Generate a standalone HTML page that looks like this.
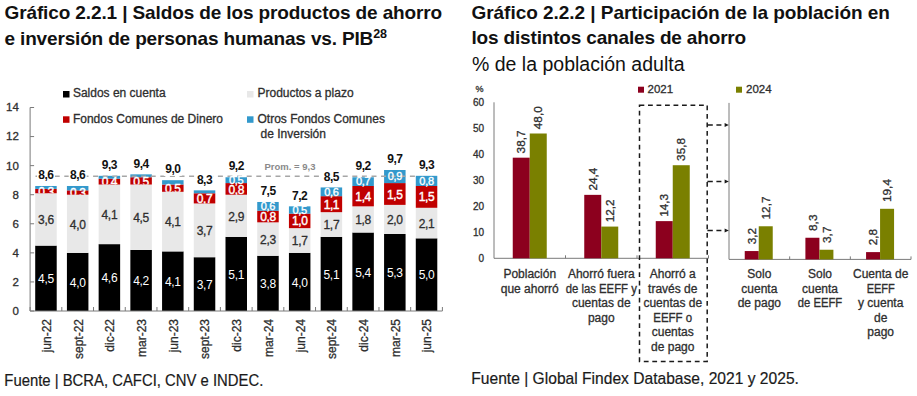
<!DOCTYPE html>
<html><head><meta charset="utf-8"><style>
html,body{margin:0;padding:0;background:#fff;width:917px;height:396px;overflow:hidden;position:relative;}
</style></head><body>
<svg width="917" height="396" viewBox="0 0 917 396" style="position:absolute;left:0;top:0" font-family='"Liberation Sans", sans-serif'>
<rect x="0" y="0" width="917" height="396" fill="#ffffff"/>
<text x="4.5" y="18.7" font-size="19" font-weight="700" fill="#111111" text-anchor="start" letter-spacing="-0.12" >Gráfico 2.2.1 | Saldos de los productos de ahorro</text>
<text x="4.5" y="44.8" font-size="19" font-weight="700" fill="#111111" text-anchor="start" letter-spacing="-0.16" >e inversión de personas humanas vs. PIB<tspan font-size="12.5" dx="0.2" dy="-7.2" letter-spacing="-0.3">28</tspan></text>
<text x="471.5" y="18.6" font-size="19" font-weight="700" fill="#111111" text-anchor="start" letter-spacing="-0.04" >Gráfico 2.2.2 | Participación de la población en</text>
<text x="471.5" y="44.4" font-size="19" font-weight="700" fill="#111111" text-anchor="start" letter-spacing="-0.17" >los distintos canales de ahorro</text>
<text x="472" y="70.5" font-size="19.5" font-weight="400" fill="#111111" text-anchor="start" >% de la población adulta</text>
<line x1="30.1" y1="107.49600000000001" x2="30.1" y2="311.0" stroke="#7a7a7a" stroke-width="1"/>
<line x1="30.1" y1="311.00" x2="34.1" y2="311.00" stroke="#7a7a7a" stroke-width="1"/>
<text x="18.8" y="314.90" font-size="11.5" font-weight="400" fill="#2e2e2e" text-anchor="end"  stroke="#2e2e2e" stroke-width="0.3">0</text>
<line x1="30.1" y1="281.93" x2="34.1" y2="281.93" stroke="#7a7a7a" stroke-width="1"/>
<text x="18.8" y="285.83" font-size="11.5" font-weight="400" fill="#2e2e2e" text-anchor="end"  stroke="#2e2e2e" stroke-width="0.3">2</text>
<line x1="30.1" y1="252.86" x2="34.1" y2="252.86" stroke="#7a7a7a" stroke-width="1"/>
<text x="18.8" y="256.76" font-size="11.5" font-weight="400" fill="#2e2e2e" text-anchor="end"  stroke="#2e2e2e" stroke-width="0.3">4</text>
<line x1="30.1" y1="223.78" x2="34.1" y2="223.78" stroke="#7a7a7a" stroke-width="1"/>
<text x="18.8" y="227.68" font-size="11.5" font-weight="400" fill="#2e2e2e" text-anchor="end"  stroke="#2e2e2e" stroke-width="0.3">6</text>
<line x1="30.1" y1="194.71" x2="34.1" y2="194.71" stroke="#7a7a7a" stroke-width="1"/>
<text x="18.8" y="198.61" font-size="11.5" font-weight="400" fill="#2e2e2e" text-anchor="end"  stroke="#2e2e2e" stroke-width="0.3">8</text>
<line x1="30.1" y1="165.64" x2="34.1" y2="165.64" stroke="#7a7a7a" stroke-width="1"/>
<text x="18.8" y="169.54" font-size="11.5" font-weight="400" fill="#2e2e2e" text-anchor="end"  stroke="#2e2e2e" stroke-width="0.3">10</text>
<line x1="30.1" y1="136.57" x2="34.1" y2="136.57" stroke="#7a7a7a" stroke-width="1"/>
<text x="18.8" y="140.47" font-size="11.5" font-weight="400" fill="#2e2e2e" text-anchor="end"  stroke="#2e2e2e" stroke-width="0.3">12</text>
<line x1="30.1" y1="107.50" x2="34.1" y2="107.50" stroke="#7a7a7a" stroke-width="1"/>
<text x="18.8" y="111.40" font-size="11.5" font-weight="400" fill="#2e2e2e" text-anchor="end"  stroke="#2e2e2e" stroke-width="0.3">14</text>
<rect x="35.21" y="245.59" width="21.5" height="65.41" fill="#000000"/>
<rect x="35.21" y="193.26" width="21.5" height="52.33" fill="#e8e8e8"/>
<rect x="35.21" y="188.90" width="21.5" height="4.36" fill="#c00000"/>
<rect x="35.21" y="185.99" width="21.5" height="2.91" fill="#3399cc"/>
<rect x="66.92" y="252.86" width="21.5" height="58.14" fill="#000000"/>
<rect x="66.92" y="194.71" width="21.5" height="58.14" fill="#e8e8e8"/>
<rect x="66.92" y="190.35" width="21.5" height="4.36" fill="#c00000"/>
<rect x="66.92" y="185.99" width="21.5" height="4.36" fill="#3399cc"/>
<rect x="98.64" y="244.13" width="21.5" height="66.87" fill="#000000"/>
<rect x="98.64" y="184.54" width="21.5" height="59.60" fill="#e8e8e8"/>
<rect x="98.64" y="178.72" width="21.5" height="5.81" fill="#c00000"/>
<rect x="98.64" y="175.82" width="21.5" height="2.91" fill="#3399cc"/>
<rect x="130.35" y="249.95" width="21.5" height="61.05" fill="#000000"/>
<rect x="130.35" y="184.54" width="21.5" height="65.41" fill="#e8e8e8"/>
<rect x="130.35" y="177.27" width="21.5" height="7.27" fill="#c00000"/>
<rect x="130.35" y="174.36" width="21.5" height="2.91" fill="#3399cc"/>
<rect x="162.07" y="251.40" width="21.5" height="59.60" fill="#000000"/>
<rect x="162.07" y="191.80" width="21.5" height="59.60" fill="#e8e8e8"/>
<rect x="162.07" y="184.54" width="21.5" height="7.27" fill="#c00000"/>
<rect x="162.07" y="180.18" width="21.5" height="4.36" fill="#3399cc"/>
<rect x="193.78" y="257.22" width="21.5" height="53.78" fill="#000000"/>
<rect x="193.78" y="203.43" width="21.5" height="53.78" fill="#e8e8e8"/>
<rect x="193.78" y="193.26" width="21.5" height="10.18" fill="#c00000"/>
<rect x="193.78" y="190.35" width="21.5" height="2.91" fill="#3399cc"/>
<rect x="225.50" y="236.87" width="21.5" height="74.13" fill="#000000"/>
<rect x="225.50" y="194.71" width="21.5" height="42.15" fill="#e8e8e8"/>
<rect x="225.50" y="183.08" width="21.5" height="11.63" fill="#c00000"/>
<rect x="225.50" y="177.27" width="21.5" height="5.81" fill="#3399cc"/>
<rect x="257.22" y="255.76" width="21.5" height="55.24" fill="#000000"/>
<rect x="257.22" y="222.33" width="21.5" height="33.43" fill="#e8e8e8"/>
<rect x="257.22" y="210.70" width="21.5" height="11.63" fill="#c00000"/>
<rect x="257.22" y="201.98" width="21.5" height="8.72" fill="#3399cc"/>
<rect x="288.93" y="252.86" width="21.5" height="58.14" fill="#000000"/>
<rect x="288.93" y="228.14" width="21.5" height="24.71" fill="#e8e8e8"/>
<rect x="288.93" y="213.61" width="21.5" height="14.54" fill="#c00000"/>
<rect x="288.93" y="206.34" width="21.5" height="7.27" fill="#3399cc"/>
<rect x="320.65" y="236.87" width="21.5" height="74.13" fill="#000000"/>
<rect x="320.65" y="212.16" width="21.5" height="24.71" fill="#e8e8e8"/>
<rect x="320.65" y="196.17" width="21.5" height="15.99" fill="#c00000"/>
<rect x="320.65" y="187.44" width="21.5" height="8.72" fill="#3399cc"/>
<rect x="352.36" y="232.51" width="21.5" height="78.49" fill="#000000"/>
<rect x="352.36" y="206.34" width="21.5" height="26.16" fill="#e8e8e8"/>
<rect x="352.36" y="185.99" width="21.5" height="20.35" fill="#c00000"/>
<rect x="352.36" y="177.27" width="21.5" height="8.72" fill="#3399cc"/>
<rect x="384.08" y="233.96" width="21.5" height="77.04" fill="#000000"/>
<rect x="384.08" y="204.89" width="21.5" height="29.07" fill="#e8e8e8"/>
<rect x="384.08" y="183.08" width="21.5" height="21.80" fill="#c00000"/>
<rect x="384.08" y="170.00" width="21.5" height="13.08" fill="#3399cc"/>
<rect x="415.79" y="238.32" width="21.5" height="72.68" fill="#000000"/>
<rect x="415.79" y="207.79" width="21.5" height="30.53" fill="#e8e8e8"/>
<rect x="415.79" y="185.99" width="21.5" height="21.80" fill="#c00000"/>
<rect x="415.79" y="175.82" width="21.5" height="10.18" fill="#3399cc"/>
<line x1="30.1" y1="311.0" x2="442.4" y2="311.0" stroke="#7a7a7a" stroke-width="1"/>
<line x1="30.10" y1="307.0" x2="30.10" y2="311.0" stroke="#7a7a7a" stroke-width="1"/>
<line x1="61.82" y1="307.0" x2="61.82" y2="311.0" stroke="#7a7a7a" stroke-width="1"/>
<line x1="93.53" y1="307.0" x2="93.53" y2="311.0" stroke="#7a7a7a" stroke-width="1"/>
<line x1="125.25" y1="307.0" x2="125.25" y2="311.0" stroke="#7a7a7a" stroke-width="1"/>
<line x1="156.96" y1="307.0" x2="156.96" y2="311.0" stroke="#7a7a7a" stroke-width="1"/>
<line x1="188.68" y1="307.0" x2="188.68" y2="311.0" stroke="#7a7a7a" stroke-width="1"/>
<line x1="220.39" y1="307.0" x2="220.39" y2="311.0" stroke="#7a7a7a" stroke-width="1"/>
<line x1="252.11" y1="307.0" x2="252.11" y2="311.0" stroke="#7a7a7a" stroke-width="1"/>
<line x1="283.82" y1="307.0" x2="283.82" y2="311.0" stroke="#7a7a7a" stroke-width="1"/>
<line x1="315.54" y1="307.0" x2="315.54" y2="311.0" stroke="#7a7a7a" stroke-width="1"/>
<line x1="347.25" y1="307.0" x2="347.25" y2="311.0" stroke="#7a7a7a" stroke-width="1"/>
<line x1="378.97" y1="307.0" x2="378.97" y2="311.0" stroke="#7a7a7a" stroke-width="1"/>
<line x1="410.68" y1="307.0" x2="410.68" y2="311.0" stroke="#7a7a7a" stroke-width="1"/>
<line x1="442.40" y1="307.0" x2="442.40" y2="311.0" stroke="#7a7a7a" stroke-width="1"/>
<line x1="35.5" y1="176.2" x2="415" y2="176.2" stroke="#a6a6a6" stroke-width="1.4" stroke-dasharray="5 4.6"/>
<text x="264.5" y="169.7" font-size="9.5" font-weight="700" fill="#8a8a8a" text-anchor="start" >Prom. = 9,3</text>
<text x="45.96" y="283.09" font-size="12" font-weight="400" fill="#ffffff" text-anchor="middle" letter-spacing="-0.3" >4,5</text>
<text x="45.96" y="224.22" font-size="12" font-weight="400" fill="#2e2e2e" text-anchor="middle" letter-spacing="-0.3"  stroke="#2e2e2e" stroke-width="0.3">3,6</text>
<clipPath id="c95"><rect x="35.21" y="185.99" width="21.5" height="7.27"/></clipPath>
<text x="45.96" y="195.68" font-size="12" font-weight="400" fill="#ffffff" text-anchor="middle" letter-spacing="-0.4" stroke="#ffffff" stroke-width="0.4" clip-path="url(#c95)">0,3</text>
<rect x="36.96" y="169.69" width="18" height="12" fill="#ffffff"/>
<text x="45.96" y="179.19" font-size="12" font-weight="700" fill="#111111" text-anchor="middle" letter-spacing="-0.5" >8,6</text>
<text x="77.67" y="286.73" font-size="12" font-weight="400" fill="#ffffff" text-anchor="middle" letter-spacing="-0.3" >4,0</text>
<text x="77.67" y="228.58" font-size="12" font-weight="400" fill="#2e2e2e" text-anchor="middle" letter-spacing="-0.3"  stroke="#2e2e2e" stroke-width="0.3">4,0</text>
<clipPath id="c101"><rect x="66.92" y="185.99" width="21.5" height="8.72"/></clipPath>
<text x="77.67" y="197.13" font-size="12" font-weight="400" fill="#ffffff" text-anchor="middle" letter-spacing="-0.4" stroke="#ffffff" stroke-width="0.4" clip-path="url(#c101)">0,3</text>
<rect x="68.67" y="169.69" width="18" height="12" fill="#ffffff"/>
<text x="77.67" y="179.19" font-size="12" font-weight="700" fill="#111111" text-anchor="middle" letter-spacing="-0.5" >8,6</text>
<text x="109.39" y="282.37" font-size="12" font-weight="400" fill="#ffffff" text-anchor="middle" letter-spacing="-0.3" >4,6</text>
<text x="109.39" y="219.14" font-size="12" font-weight="400" fill="#2e2e2e" text-anchor="middle" letter-spacing="-0.3"  stroke="#2e2e2e" stroke-width="0.3">4,1</text>
<clipPath id="c107"><rect x="98.64" y="175.82" width="21.5" height="8.72"/></clipPath>
<text x="109.39" y="186.23" font-size="12" font-weight="400" fill="#ffffff" text-anchor="middle" letter-spacing="-0.4" stroke="#ffffff" stroke-width="0.4" clip-path="url(#c107)">0,4</text>
<rect x="100.39" y="159.52" width="18" height="12" fill="#ffffff"/>
<text x="109.39" y="169.02" font-size="12" font-weight="700" fill="#111111" text-anchor="middle" letter-spacing="-0.5" >9,3</text>
<text x="141.10" y="285.27" font-size="12" font-weight="400" fill="#ffffff" text-anchor="middle" letter-spacing="-0.3" >4,2</text>
<text x="141.10" y="222.04" font-size="12" font-weight="400" fill="#2e2e2e" text-anchor="middle" letter-spacing="-0.3"  stroke="#2e2e2e" stroke-width="0.3">4,5</text>
<clipPath id="c113"><rect x="130.35" y="174.36" width="21.5" height="10.18"/></clipPath>
<text x="141.10" y="185.50" font-size="12" font-weight="400" fill="#ffffff" text-anchor="middle" letter-spacing="-0.4" stroke="#ffffff" stroke-width="0.4" clip-path="url(#c113)">0,5</text>
<rect x="132.10" y="158.06" width="18" height="12" fill="#ffffff"/>
<text x="141.10" y="167.56" font-size="12" font-weight="700" fill="#111111" text-anchor="middle" letter-spacing="-0.5" >9,4</text>
<text x="172.82" y="286.00" font-size="12" font-weight="400" fill="#ffffff" text-anchor="middle" letter-spacing="-0.3" >4,1</text>
<text x="172.82" y="226.40" font-size="12" font-weight="400" fill="#2e2e2e" text-anchor="middle" letter-spacing="-0.3"  stroke="#2e2e2e" stroke-width="0.3">4,1</text>
<clipPath id="c119"><rect x="162.07" y="180.18" width="21.5" height="11.63"/></clipPath>
<text x="172.82" y="192.77" font-size="12" font-weight="400" fill="#ffffff" text-anchor="middle" letter-spacing="-0.4" stroke="#ffffff" stroke-width="0.4" clip-path="url(#c119)">0,5</text>
<rect x="163.82" y="163.88" width="18" height="12" fill="#ffffff"/>
<text x="172.82" y="173.38" font-size="12" font-weight="700" fill="#111111" text-anchor="middle" letter-spacing="-0.5" >9,0</text>
<text x="204.53" y="288.91" font-size="12" font-weight="400" fill="#ffffff" text-anchor="middle" letter-spacing="-0.3" >3,7</text>
<text x="204.53" y="235.13" font-size="12" font-weight="400" fill="#2e2e2e" text-anchor="middle" letter-spacing="-0.3"  stroke="#2e2e2e" stroke-width="0.3">3,7</text>
<clipPath id="c125"><rect x="193.78" y="190.35" width="21.5" height="13.08"/></clipPath>
<text x="204.53" y="202.95" font-size="12" font-weight="400" fill="#ffffff" text-anchor="middle" letter-spacing="-0.4" stroke="#ffffff" stroke-width="0.4" clip-path="url(#c125)">0,7</text>
<rect x="195.53" y="174.05" width="18" height="12" fill="#ffffff"/>
<text x="204.53" y="183.55" font-size="12" font-weight="700" fill="#111111" text-anchor="middle" letter-spacing="-0.5" >8,3</text>
<text x="236.25" y="278.73" font-size="12" font-weight="400" fill="#ffffff" text-anchor="middle" letter-spacing="-0.3" >5,1</text>
<text x="236.25" y="220.59" font-size="12" font-weight="400" fill="#2e2e2e" text-anchor="middle" letter-spacing="-0.3"  stroke="#2e2e2e" stroke-width="0.3">2,9</text>
<clipPath id="c131"><rect x="225.50" y="177.27" width="21.5" height="17.44"/></clipPath>
<text x="236.25" y="193.50" font-size="12" font-weight="400" fill="#ffffff" text-anchor="middle" letter-spacing="-0.4" stroke="#ffffff" stroke-width="0.4" clip-path="url(#c131)">0,8</text>
<text x="236.25" y="183.98" font-size="11" font-weight="400" fill="#ffffff" text-anchor="middle" letter-spacing="-0.3" stroke="#ffffff" stroke-width="0.35">0,5</text>
<rect x="227.25" y="160.97" width="18" height="12" fill="#ffffff"/>
<text x="236.25" y="170.47" font-size="12" font-weight="700" fill="#111111" text-anchor="middle" letter-spacing="-0.5" >9,2</text>
<text x="267.97" y="288.18" font-size="12" font-weight="400" fill="#ffffff" text-anchor="middle" letter-spacing="-0.3" >3,8</text>
<text x="267.97" y="243.85" font-size="12" font-weight="400" fill="#2e2e2e" text-anchor="middle" letter-spacing="-0.3"  stroke="#2e2e2e" stroke-width="0.3">2,3</text>
<clipPath id="c138"><rect x="257.22" y="201.98" width="21.5" height="20.35"/></clipPath>
<text x="267.97" y="221.12" font-size="12" font-weight="400" fill="#ffffff" text-anchor="middle" letter-spacing="-0.4" stroke="#ffffff" stroke-width="0.4" clip-path="url(#c138)">0,8</text>
<text x="267.97" y="210.14" font-size="11" font-weight="400" fill="#ffffff" text-anchor="middle" letter-spacing="-0.3" stroke="#ffffff" stroke-width="0.35">0,6</text>
<rect x="258.97" y="185.68" width="18" height="12" fill="#ffffff"/>
<text x="267.97" y="195.18" font-size="12" font-weight="700" fill="#111111" text-anchor="middle" letter-spacing="-0.5" >7,5</text>
<text x="299.68" y="286.73" font-size="12" font-weight="400" fill="#ffffff" text-anchor="middle" letter-spacing="-0.3" >4,0</text>
<text x="299.68" y="245.30" font-size="12" font-weight="400" fill="#2e2e2e" text-anchor="middle" letter-spacing="-0.3"  stroke="#2e2e2e" stroke-width="0.3">1,7</text>
<clipPath id="c145"><rect x="288.93" y="206.34" width="21.5" height="21.80"/></clipPath>
<text x="299.68" y="225.48" font-size="12" font-weight="400" fill="#ffffff" text-anchor="middle" letter-spacing="-0.4" stroke="#ffffff" stroke-width="0.4" clip-path="url(#c145)">1,0</text>
<text x="299.68" y="213.77" font-size="11" font-weight="400" fill="#ffffff" text-anchor="middle" letter-spacing="-0.3" stroke="#ffffff" stroke-width="0.35">0,5</text>
<rect x="290.68" y="190.04" width="18" height="12" fill="#ffffff"/>
<text x="299.68" y="199.54" font-size="12" font-weight="700" fill="#111111" text-anchor="middle" letter-spacing="-0.5" >7,2</text>
<text x="331.40" y="278.73" font-size="12" font-weight="400" fill="#ffffff" text-anchor="middle" letter-spacing="-0.3" >5,1</text>
<text x="331.40" y="229.31" font-size="12" font-weight="400" fill="#2e2e2e" text-anchor="middle" letter-spacing="-0.3"  stroke="#2e2e2e" stroke-width="0.3">1,7</text>
<clipPath id="c152"><rect x="320.65" y="187.44" width="21.5" height="24.71"/></clipPath>
<text x="331.40" y="208.76" font-size="12" font-weight="400" fill="#ffffff" text-anchor="middle" letter-spacing="-0.4" stroke="#ffffff" stroke-width="0.4" clip-path="url(#c152)">1,1</text>
<text x="331.40" y="195.60" font-size="11" font-weight="400" fill="#ffffff" text-anchor="middle" letter-spacing="-0.3" stroke="#ffffff" stroke-width="0.35">0,6</text>
<rect x="322.40" y="171.14" width="18" height="12" fill="#ffffff"/>
<text x="331.40" y="180.64" font-size="12" font-weight="700" fill="#111111" text-anchor="middle" letter-spacing="-0.5" >8,5</text>
<text x="363.11" y="276.55" font-size="12" font-weight="400" fill="#ffffff" text-anchor="middle" letter-spacing="-0.3" >5,4</text>
<text x="363.11" y="224.22" font-size="12" font-weight="400" fill="#2e2e2e" text-anchor="middle" letter-spacing="-0.3"  stroke="#2e2e2e" stroke-width="0.3">1,8</text>
<clipPath id="c159"><rect x="352.36" y="177.27" width="21.5" height="29.07"/></clipPath>
<text x="363.11" y="200.77" font-size="12" font-weight="400" fill="#ffffff" text-anchor="middle" letter-spacing="-0.4" stroke="#ffffff" stroke-width="0.4" clip-path="url(#c159)">1,4</text>
<text x="363.11" y="185.43" font-size="11" font-weight="400" fill="#ffffff" text-anchor="middle" letter-spacing="-0.3" stroke="#ffffff" stroke-width="0.35">0,7</text>
<rect x="354.11" y="160.97" width="18" height="12" fill="#ffffff"/>
<text x="363.11" y="170.47" font-size="12" font-weight="700" fill="#111111" text-anchor="middle" letter-spacing="-0.5" >9,2</text>
<text x="394.83" y="277.28" font-size="12" font-weight="400" fill="#ffffff" text-anchor="middle" letter-spacing="-0.3" >5,3</text>
<text x="394.83" y="224.22" font-size="12" font-weight="400" fill="#2e2e2e" text-anchor="middle" letter-spacing="-0.3"  stroke="#2e2e2e" stroke-width="0.3">2,0</text>
<clipPath id="c166"><rect x="384.08" y="170.00" width="21.5" height="34.89"/></clipPath>
<text x="394.83" y="198.59" font-size="12" font-weight="400" fill="#ffffff" text-anchor="middle" letter-spacing="-0.4" stroke="#ffffff" stroke-width="0.4" clip-path="url(#c166)">1,5</text>
<text x="394.83" y="180.34" font-size="11" font-weight="400" fill="#ffffff" text-anchor="middle" letter-spacing="-0.3" stroke="#ffffff" stroke-width="0.35">0,9</text>
<rect x="385.83" y="153.70" width="18" height="12" fill="#ffffff"/>
<text x="394.83" y="163.20" font-size="12" font-weight="700" fill="#111111" text-anchor="middle" letter-spacing="-0.5" >9,7</text>
<text x="426.54" y="279.46" font-size="12" font-weight="400" fill="#ffffff" text-anchor="middle" letter-spacing="-0.3" >5,0</text>
<text x="426.54" y="227.86" font-size="12" font-weight="400" fill="#2e2e2e" text-anchor="middle" letter-spacing="-0.3"  stroke="#2e2e2e" stroke-width="0.3">2,1</text>
<clipPath id="c173"><rect x="415.79" y="175.82" width="21.5" height="31.98"/></clipPath>
<text x="426.54" y="201.49" font-size="12" font-weight="400" fill="#ffffff" text-anchor="middle" letter-spacing="-0.4" stroke="#ffffff" stroke-width="0.4" clip-path="url(#c173)">1,5</text>
<text x="426.54" y="184.70" font-size="11" font-weight="400" fill="#ffffff" text-anchor="middle" letter-spacing="-0.3" stroke="#ffffff" stroke-width="0.35">0,8</text>
<rect x="417.54" y="159.52" width="18" height="12" fill="#ffffff"/>
<text x="426.54" y="169.02" font-size="12" font-weight="700" fill="#111111" text-anchor="middle" letter-spacing="-0.5" >9,3</text>
<text x="0" y="0" transform="translate(50.86,319.0) rotate(-90)" font-size="12" fill="#2e2e2e" stroke="#2e2e2e" stroke-width="0.3" text-anchor="end">jun-22</text>
<text x="0" y="0" transform="translate(82.57,319.0) rotate(-90)" font-size="12" fill="#2e2e2e" stroke="#2e2e2e" stroke-width="0.3" text-anchor="end">sept-22</text>
<text x="0" y="0" transform="translate(114.29,319.0) rotate(-90)" font-size="12" fill="#2e2e2e" stroke="#2e2e2e" stroke-width="0.3" text-anchor="end">dic-22</text>
<text x="0" y="0" transform="translate(146.00,319.0) rotate(-90)" font-size="12" fill="#2e2e2e" stroke="#2e2e2e" stroke-width="0.3" text-anchor="end">mar-23</text>
<text x="0" y="0" transform="translate(177.72,319.0) rotate(-90)" font-size="12" fill="#2e2e2e" stroke="#2e2e2e" stroke-width="0.3" text-anchor="end">jun-23</text>
<text x="0" y="0" transform="translate(209.43,319.0) rotate(-90)" font-size="12" fill="#2e2e2e" stroke="#2e2e2e" stroke-width="0.3" text-anchor="end">sept-23</text>
<text x="0" y="0" transform="translate(241.15,319.0) rotate(-90)" font-size="12" fill="#2e2e2e" stroke="#2e2e2e" stroke-width="0.3" text-anchor="end">dic-23</text>
<text x="0" y="0" transform="translate(272.87,319.0) rotate(-90)" font-size="12" fill="#2e2e2e" stroke="#2e2e2e" stroke-width="0.3" text-anchor="end">mar-24</text>
<text x="0" y="0" transform="translate(304.58,319.0) rotate(-90)" font-size="12" fill="#2e2e2e" stroke="#2e2e2e" stroke-width="0.3" text-anchor="end">jun-24</text>
<text x="0" y="0" transform="translate(336.30,319.0) rotate(-90)" font-size="12" fill="#2e2e2e" stroke="#2e2e2e" stroke-width="0.3" text-anchor="end">sept-24</text>
<text x="0" y="0" transform="translate(368.01,319.0) rotate(-90)" font-size="12" fill="#2e2e2e" stroke="#2e2e2e" stroke-width="0.3" text-anchor="end">dic-24</text>
<text x="0" y="0" transform="translate(399.73,319.0) rotate(-90)" font-size="12" fill="#2e2e2e" stroke="#2e2e2e" stroke-width="0.3" text-anchor="end">mar-25</text>
<text x="0" y="0" transform="translate(431.44,319.0) rotate(-90)" font-size="12" fill="#2e2e2e" stroke="#2e2e2e" stroke-width="0.3" text-anchor="end">jun-25</text>
<rect x="63" y="91" width="6.5" height="6.5" fill="#000000"/>
<text x="72.9" y="97" font-size="12" font-weight="400" fill="#2e2e2e" text-anchor="start"  stroke="#2e2e2e" stroke-width="0.3">Saldos en cuenta</text>
<rect x="247" y="91" width="6.5" height="6.5" fill="#e8e8e8"/>
<text x="257.5" y="97" font-size="12" font-weight="400" fill="#2e2e2e" text-anchor="start"  stroke="#2e2e2e" stroke-width="0.3">Productos a plazo</text>
<rect x="63" y="116.3" width="6.5" height="6.5" fill="#c00000"/>
<text x="72.9" y="122.7" font-size="12" font-weight="400" fill="#2e2e2e" text-anchor="start"  stroke="#2e2e2e" stroke-width="0.3">Fondos Comunes de Dinero</text>
<rect x="247" y="116.3" width="6.5" height="6.5" fill="#3399cc"/>
<text x="257.5" y="122.8" font-size="12" font-weight="400" fill="#2e2e2e" text-anchor="start"  stroke="#2e2e2e" stroke-width="0.3">Otros Fondos Comunes</text>
<text x="260.6" y="137.6" font-size="12" font-weight="400" fill="#2e2e2e" text-anchor="start"  stroke="#2e2e2e" stroke-width="0.3">de Inversión</text>
<text x="0" y="0" transform="translate(4.3,386) scale(0.929,1)" font-size="16" fill="#1a1a1a" stroke="#1a1a1a" stroke-width="0.2">Fuente | BCRA, CAFCI, CNV e INDEC.</text>
<text x="0" y="0" transform="translate(471.3,384) scale(0.976,1)" font-size="16" fill="#1a1a1a" stroke="#1a1a1a" stroke-width="0.2">Fuente | Global Findex Database, 2021 y 2025.</text>
<line x1="494.0" y1="102.30000000000001" x2="494.0" y2="258.3" stroke="#7a7a7a" stroke-width="1"/>
<line x1="494.0" y1="258.3" x2="708.5" y2="258.3" stroke="#7a7a7a" stroke-width="1"/>
<line x1="565.50" y1="255.3" x2="565.50" y2="258.3" stroke="#7a7a7a" stroke-width="1"/>
<line x1="637.00" y1="255.3" x2="637.00" y2="258.3" stroke="#7a7a7a" stroke-width="1"/>
<line x1="708.50" y1="255.3" x2="708.50" y2="258.3" stroke="#7a7a7a" stroke-width="1"/>
<line x1="729.0" y1="102.9" x2="729.0" y2="259.4" stroke="#7a7a7a" stroke-width="1"/>
<line x1="729.0" y1="259.4" x2="911.01" y2="259.4" stroke="#7a7a7a" stroke-width="1"/>
<line x1="789.67" y1="256.4" x2="789.67" y2="259.4" stroke="#7a7a7a" stroke-width="1"/>
<line x1="850.34" y1="256.4" x2="850.34" y2="259.4" stroke="#7a7a7a" stroke-width="1"/>
<line x1="911.01" y1="256.4" x2="911.01" y2="259.4" stroke="#7a7a7a" stroke-width="1"/>
<text x="484" y="261.90" font-size="10" font-weight="400" fill="#2e2e2e" text-anchor="end"  stroke="#2e2e2e" stroke-width="0.3">0</text>
<text x="484" y="235.90" font-size="10" font-weight="400" fill="#2e2e2e" text-anchor="end"  stroke="#2e2e2e" stroke-width="0.3">10</text>
<text x="484" y="209.90" font-size="10" font-weight="400" fill="#2e2e2e" text-anchor="end"  stroke="#2e2e2e" stroke-width="0.3">20</text>
<text x="484" y="183.90" font-size="10" font-weight="400" fill="#2e2e2e" text-anchor="end"  stroke="#2e2e2e" stroke-width="0.3">30</text>
<text x="484" y="157.90" font-size="10" font-weight="400" fill="#2e2e2e" text-anchor="end"  stroke="#2e2e2e" stroke-width="0.3">40</text>
<text x="484" y="131.90" font-size="10" font-weight="400" fill="#2e2e2e" text-anchor="end"  stroke="#2e2e2e" stroke-width="0.3">50</text>
<text x="484" y="105.90" font-size="10" font-weight="400" fill="#2e2e2e" text-anchor="end"  stroke="#2e2e2e" stroke-width="0.3">60</text>
<text x="479.5" y="91.8" font-size="9" font-weight="400" fill="#2e2e2e" text-anchor="middle"  stroke="#2e2e2e" stroke-width="0.3">%</text>
<rect x="512.75" y="157.68" width="17" height="100.62" fill="#8c001e"/>
<text x="0" y="0" transform="translate(525.35,153.38) rotate(-90)" font-size="11.8" fill="#2e2e2e" stroke="#2e2e2e" stroke-width="0.3" text-anchor="start">38,7</text>
<rect x="529.75" y="133.50" width="17" height="124.80" fill="#7a8000"/>
<text x="0" y="0" transform="translate(542.35,129.20) rotate(-90)" font-size="11.8" fill="#2e2e2e" stroke="#2e2e2e" stroke-width="0.3" text-anchor="start">48,0</text>
<rect x="584.25" y="194.86" width="17" height="63.44" fill="#8c001e"/>
<text x="0" y="0" transform="translate(596.85,190.56) rotate(-90)" font-size="11.8" fill="#2e2e2e" stroke="#2e2e2e" stroke-width="0.3" text-anchor="start">24,4</text>
<rect x="601.25" y="226.58" width="17" height="31.72" fill="#7a8000"/>
<text x="0" y="0" transform="translate(613.85,222.28) rotate(-90)" font-size="11.8" fill="#2e2e2e" stroke="#2e2e2e" stroke-width="0.3" text-anchor="start">12,2</text>
<rect x="655.75" y="221.12" width="17" height="37.18" fill="#8c001e"/>
<text x="0" y="0" transform="translate(668.35,216.82) rotate(-90)" font-size="11.8" fill="#2e2e2e" stroke="#2e2e2e" stroke-width="0.3" text-anchor="start">14,3</text>
<rect x="672.75" y="165.22" width="17" height="93.08" fill="#7a8000"/>
<text x="0" y="0" transform="translate(685.35,160.92) rotate(-90)" font-size="11.8" fill="#2e2e2e" stroke="#2e2e2e" stroke-width="0.3" text-anchor="start">35,8</text>
<rect x="744.74" y="251.05" width="14" height="8.35" fill="#8c001e"/>
<text x="0" y="0" transform="translate(755.84,244.25) rotate(-90)" font-size="11.8" fill="#2e2e2e" stroke="#2e2e2e" stroke-width="0.3" text-anchor="start">3,2</text>
<rect x="758.74" y="226.27" width="14" height="33.13" fill="#7a8000"/>
<text x="0" y="0" transform="translate(769.84,219.47) rotate(-90)" font-size="11.8" fill="#2e2e2e" stroke="#2e2e2e" stroke-width="0.3" text-anchor="start">12,7</text>
<rect x="805.40" y="237.75" width="14" height="21.65" fill="#8c001e"/>
<text x="0" y="0" transform="translate(816.50,230.95) rotate(-90)" font-size="11.8" fill="#2e2e2e" stroke="#2e2e2e" stroke-width="0.3" text-anchor="start">8,3</text>
<rect x="819.40" y="249.75" width="14" height="9.65" fill="#7a8000"/>
<text x="0" y="0" transform="translate(830.50,242.95) rotate(-90)" font-size="11.8" fill="#2e2e2e" stroke="#2e2e2e" stroke-width="0.3" text-anchor="start">3,7</text>
<rect x="866.07" y="252.10" width="14" height="7.30" fill="#8c001e"/>
<text x="0" y="0" transform="translate(877.17,245.30) rotate(-90)" font-size="11.8" fill="#2e2e2e" stroke="#2e2e2e" stroke-width="0.3" text-anchor="start">2,8</text>
<rect x="880.07" y="208.80" width="14" height="50.60" fill="#7a8000"/>
<text x="0" y="0" transform="translate(891.17,202.00) rotate(-90)" font-size="11.8" fill="#2e2e2e" stroke="#2e2e2e" stroke-width="0.3" text-anchor="start">19,4</text>
<rect x="638" y="86.7" width="6" height="6" fill="#8c001e"/>
<text x="647.5" y="93.4" font-size="11.5" font-weight="400" fill="#2e2e2e" text-anchor="start"  stroke="#2e2e2e" stroke-width="0.3">2021</text>
<rect x="736" y="86.7" width="6" height="6" fill="#7a8000"/>
<text x="746" y="93.4" font-size="11.5" font-weight="400" fill="#2e2e2e" text-anchor="start"  stroke="#2e2e2e" stroke-width="0.3">2024</text>
<text x="0" y="0" transform="translate(529.75,278.00) scale(1.0,1)" font-size="12" fill="#2e2e2e" stroke="#2e2e2e" stroke-width="0.3" text-anchor="middle">Población</text>
<text x="0" y="0" transform="translate(529.75,292.55) scale(1.0,1)" font-size="12" fill="#2e2e2e" stroke="#2e2e2e" stroke-width="0.3" text-anchor="middle">que ahorró</text>
<text x="0" y="0" transform="translate(601.25,278.00) scale(1.0,1)" font-size="12" fill="#2e2e2e" stroke="#2e2e2e" stroke-width="0.3" text-anchor="middle">Ahorró fuera</text>
<text x="0" y="0" transform="translate(601.25,292.55) scale(0.945,1)" font-size="12" fill="#2e2e2e" stroke="#2e2e2e" stroke-width="0.3" text-anchor="middle">de las EEFF y</text>
<text x="0" y="0" transform="translate(601.25,307.10) scale(1.0,1)" font-size="12" fill="#2e2e2e" stroke="#2e2e2e" stroke-width="0.3" text-anchor="middle">cuentas de</text>
<text x="0" y="0" transform="translate(601.25,321.65) scale(1.0,1)" font-size="12" fill="#2e2e2e" stroke="#2e2e2e" stroke-width="0.3" text-anchor="middle">pago</text>
<text x="0" y="0" transform="translate(672.75,278.00) scale(1.0,1)" font-size="12" fill="#2e2e2e" stroke="#2e2e2e" stroke-width="0.3" text-anchor="middle">Ahorró a</text>
<text x="0" y="0" transform="translate(672.75,292.55) scale(1.0,1)" font-size="12" fill="#2e2e2e" stroke="#2e2e2e" stroke-width="0.3" text-anchor="middle">través de</text>
<text x="0" y="0" transform="translate(672.75,307.10) scale(1.0,1)" font-size="12" fill="#2e2e2e" stroke="#2e2e2e" stroke-width="0.3" text-anchor="middle">cuentas de</text>
<text x="0" y="0" transform="translate(672.75,321.65) scale(0.954,1)" font-size="12" fill="#2e2e2e" stroke="#2e2e2e" stroke-width="0.3" text-anchor="middle">EEFF o</text>
<text x="0" y="0" transform="translate(672.75,336.20) scale(1.0,1)" font-size="12" fill="#2e2e2e" stroke="#2e2e2e" stroke-width="0.3" text-anchor="middle">cuentas</text>
<text x="0" y="0" transform="translate(672.75,350.75) scale(1.0,1)" font-size="12" fill="#2e2e2e" stroke="#2e2e2e" stroke-width="0.3" text-anchor="middle">de pago</text>
<text x="0" y="0" transform="translate(759.34,278.00) scale(1.0,1)" font-size="12" fill="#2e2e2e" stroke="#2e2e2e" stroke-width="0.3" text-anchor="middle">Solo</text>
<text x="0" y="0" transform="translate(759.34,292.55) scale(1.0,1)" font-size="12" fill="#2e2e2e" stroke="#2e2e2e" stroke-width="0.3" text-anchor="middle">cuenta</text>
<text x="0" y="0" transform="translate(759.34,307.10) scale(1.0,1)" font-size="12" fill="#2e2e2e" stroke="#2e2e2e" stroke-width="0.3" text-anchor="middle">de pago</text>
<text x="0" y="0" transform="translate(820.00,278.00) scale(1.0,1)" font-size="12" fill="#2e2e2e" stroke="#2e2e2e" stroke-width="0.3" text-anchor="middle">Solo</text>
<text x="0" y="0" transform="translate(820.00,292.55) scale(1.0,1)" font-size="12" fill="#2e2e2e" stroke="#2e2e2e" stroke-width="0.3" text-anchor="middle">cuenta</text>
<text x="0" y="0" transform="translate(820.00,307.10) scale(0.936,1)" font-size="12" fill="#2e2e2e" stroke="#2e2e2e" stroke-width="0.3" text-anchor="middle">de EEFF</text>
<text x="0" y="0" transform="translate(880.67,278.00) scale(1.0,1)" font-size="12" fill="#2e2e2e" stroke="#2e2e2e" stroke-width="0.3" text-anchor="middle">Cuenta de</text>
<text x="0" y="0" transform="translate(880.67,292.55) scale(0.917,1)" font-size="12" fill="#2e2e2e" stroke="#2e2e2e" stroke-width="0.3" text-anchor="middle">EEFF</text>
<text x="0" y="0" transform="translate(880.67,307.10) scale(1.0,1)" font-size="12" fill="#2e2e2e" stroke="#2e2e2e" stroke-width="0.3" text-anchor="middle">y cuenta</text>
<text x="0" y="0" transform="translate(880.67,321.65) scale(1.0,1)" font-size="12" fill="#2e2e2e" stroke="#2e2e2e" stroke-width="0.3" text-anchor="middle">de</text>
<text x="0" y="0" transform="translate(880.67,336.20) scale(1.0,1)" font-size="12" fill="#2e2e2e" stroke="#2e2e2e" stroke-width="0.3" text-anchor="middle">pago</text>
<rect x="639.5" y="105.2" width="67.7" height="256.2" fill="none" stroke="#1a1a1a" stroke-width="1.5" stroke-dasharray="4.8 3.7"/>
<line x1="707.4" y1="125" x2="721.4" y2="125" stroke="#1a1a1a" stroke-width="1.5" stroke-dasharray="5.4 3.6"/>
<path d="M724.6 123 L728.8 125 L724.6 127 Z" fill="#1a1a1a"/>
<line x1="707.4" y1="181.5" x2="721.4" y2="181.5" stroke="#1a1a1a" stroke-width="1.5" stroke-dasharray="5.4 3.6"/>
<path d="M724.6 179.5 L728.8 181.5 L724.6 183.5 Z" fill="#1a1a1a"/>
<line x1="707.4" y1="230.5" x2="721.4" y2="230.5" stroke="#1a1a1a" stroke-width="1.5" stroke-dasharray="5.4 3.6"/>
<path d="M724.6 228.5 L728.8 230.5 L724.6 232.5 Z" fill="#1a1a1a"/>
</svg>
</body></html>
